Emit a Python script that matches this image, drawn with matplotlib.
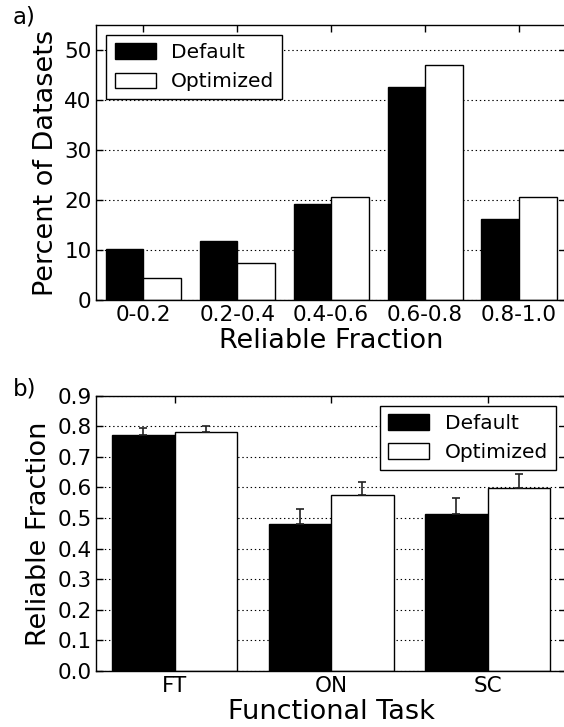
import matplotlib
matplotlib.use('Agg')
import matplotlib.pyplot as plt
import numpy as np

# ---- data ----
bins = ['0-0.2', '0.2-0.4', '0.4-0.6', '0.6-0.8', '0.8-1.0']
pct_default = [10.29, 11.76, 19.12, 42.65, 16.18]
pct_optimized = [4.41, 7.35, 20.59, 47.06, 20.59]

tasks = ['FT', 'ON', 'SC']
frac_default = [0.771, 0.481, 0.514]
frac_optimized = [0.782, 0.574, 0.599]
err_default = [0.024, 0.050, 0.052]
err_optimized = [0.020, 0.043, 0.046]

series_labels = ['Default', 'Optimized']
top_yticks = [0, 10, 20, 30, 40, 50]
bottom_yticks = [0.0, 0.1, 0.2, 0.3, 0.4, 0.5, 0.6, 0.7, 0.8, 0.9]

plt.rcParams['font.family'] = ['DejaVu Sans']
plt.rcParams['axes.linewidth'] = 1.0

fig = plt.figure(figsize=(5.64, 7.27), dpi=100)
ax1 = fig.add_axes([0.1709, 0.5873, 0.8326, 0.3783])
ax2 = fig.add_axes([0.1709, 0.0770, 0.8326, 0.3787])

W = 0.4
TICK_FS = 15.5
LAB_FS = 19.5
LEG_FS = 14.5


def style(ax):
    ax.set_axisbelow(True)
    ax.yaxis.grid(True, linestyle=(0, (1.25, 2.5)), linewidth=0.8, color='k')
    ax.tick_params(direction='in', length=5, width=1, top=True, right=True,
                   labelsize=TICK_FS)


def add_legend(ax, loc):
    ax.legend(loc=loc, fontsize=LEG_FS, fancybox=False, framealpha=1,
              edgecolor='black', handlelength=2.05, handleheight=0.8,
              handletextpad=0.75, borderpad=0.4, borderaxespad=0.5)


# ---- panel a ----
x1 = np.arange(len(bins))
ax1.bar(x1 - W / 2, pct_default, W, color='black', edgecolor='black',
        linewidth=1, label=series_labels[0])
ax1.bar(x1 + W / 2, pct_optimized, W, color='white', edgecolor='black',
        linewidth=1, label=series_labels[1])
ax1.set_xlim(-0.5, len(bins) - 0.5)
ax1.set_ylim(0, 55)
ax1.set_yticks(top_yticks)
ax1.set_xticks(x1)
ax1.set_xticklabels(bins)
style(ax1)
ax1.set_xlabel('Reliable Fraction', fontsize=LAB_FS, labelpad=2)
ax1.set_ylabel('Percent of Datasets', fontsize=LAB_FS)
add_legend(ax1, 'upper left')

# ---- panel b ----
x2 = np.arange(len(tasks))
ax2.bar(x2 - W / 2, frac_default, W, color='black', edgecolor='black',
        linewidth=1, label=series_labels[0])
ax2.bar(x2 + W / 2, frac_optimized, W, color='white', edgecolor='black',
        linewidth=1, label=series_labels[1])
ax2.errorbar(x2 - W / 2, frac_default,
             yerr=[np.zeros(len(tasks)), err_default], fmt='none',
             ecolor='#222222', elinewidth=1.2, capsize=3, capthick=1.2, zorder=3)
ax2.errorbar(x2 + W / 2, frac_optimized,
             yerr=[np.zeros(len(tasks)), err_optimized], fmt='none',
             ecolor='#222222', elinewidth=1.2, capsize=3, capthick=1.2, zorder=3)
ax2.set_xlim(-0.5, len(tasks) - 0.5)
ax2.set_ylim(0, 0.9)
ax2.set_yticks(bottom_yticks)
ax2.set_yticklabels(['%.1f' % v for v in bottom_yticks])
ax2.set_xticks(x2)
ax2.set_xticklabels(tasks)
style(ax2)
ax2.set_xlabel('Functional Task', fontsize=LAB_FS, labelpad=2)
ax2.set_ylabel('Reliable Fraction', fontsize=LAB_FS)
add_legend(ax2, 'upper right')

fig.text(0.023, 0.967, 'a)', fontsize=16.5, va='baseline')
fig.text(0.023, 0.456, 'b)', fontsize=16.5, va='baseline')

fig.savefig('out.png', dpi=100)
